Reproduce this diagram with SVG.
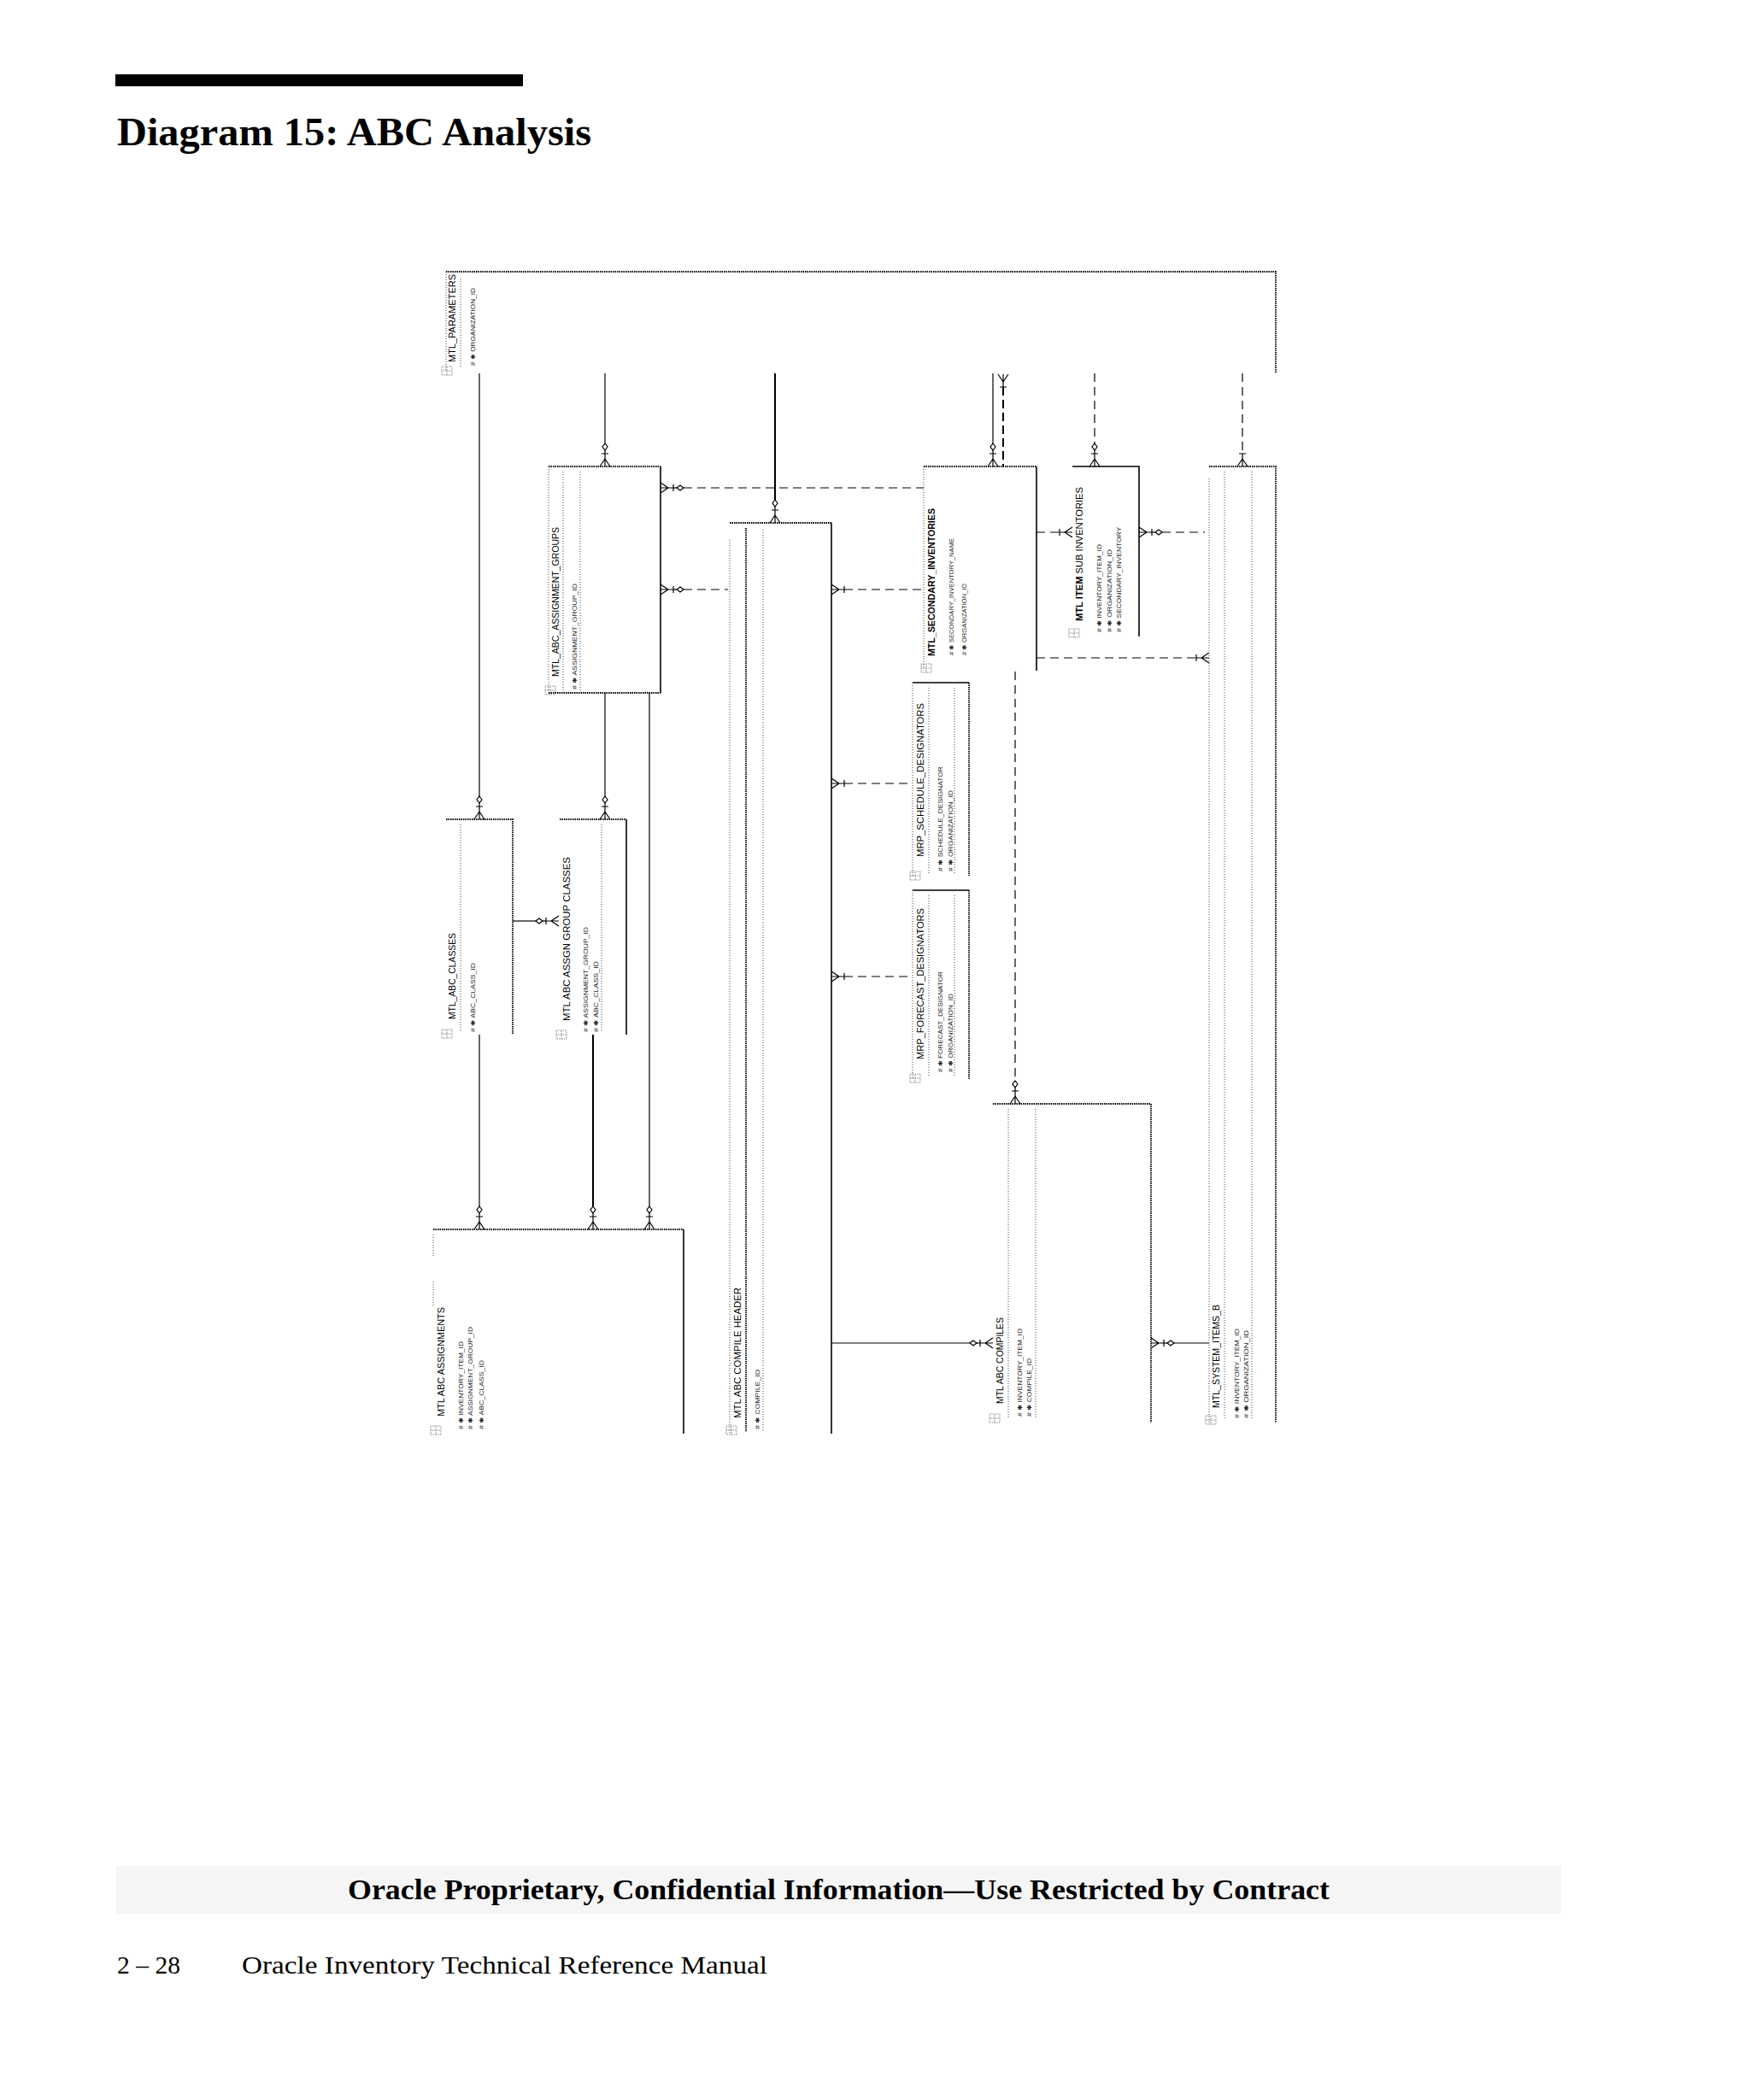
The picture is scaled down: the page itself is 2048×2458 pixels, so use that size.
<svg xmlns="http://www.w3.org/2000/svg" width="2048" height="2458" viewBox="0 0 2048 2458">
<style>
.pg{font-family:"Liberation Serif","DejaVu Serif",serif;fill:#000}
.t{font-family:"Liberation Sans",Arial,sans-serif;font-size:11px;fill:#000}
.a{font-family:"Liberation Sans",Arial,sans-serif;font-size:7px;fill:#222}
.b{stroke:#000;stroke-width:1.6;fill:none}
.bd{stroke:#000;stroke-width:1.8;stroke-dasharray:1.5 1;fill:none}
.in{stroke:#444;stroke-width:1;stroke-dasharray:1 2;fill:none}
.r{stroke:#000;stroke-width:1.2;fill:none}
.rt{stroke:#000;stroke-width:2;fill:none}
.rd{stroke:#000;stroke-width:1.2;stroke-dasharray:10 6;fill:none}
.rdt{stroke:#000;stroke-width:2;stroke-dasharray:10 5;fill:none}
.mk{stroke:#000;stroke-width:1.2;fill:#fff}
.ic{stroke:#555;stroke-width:0.8;fill:none;stroke-dasharray:1 1}
</style>
<defs>
<g id="crow"><path class="mk" d="M0,-9 L-6,0 M0,-9 L6,0 M0,-9 L0,0" fill="none"/></g>
<g id="mMan"><use href="#crow"/><path class="mk" d="M-4,-15 L4,-15 M0,-15 L0,-9"/></g>
<g id="mOpt"><use href="#mMan"/><path class="mk" d="M0,-19 L0,-15"/><path class="mk" d="M0,-27 L3,-23 L0,-19 L-3,-23 Z"/></g>
<g id="icon"><rect class="ic" x="-5" y="-12" width="10" height="12"/><path class="ic" d="M-5,-6 L5,-6 M0,-12 L0,0"/></g>
</defs>

<!-- page furniture -->
<rect x="135" y="87" width="477" height="14" fill="#000"/>
<text class="pg" x="137" y="170" font-size="46" font-weight="bold" textLength="555" lengthAdjust="spacingAndGlyphs">Diagram 15: ABC Analysis</text>
<rect x="136" y="2184" width="1691" height="56" fill="#f5f5f5"/>
<text class="pg" x="407" y="2223" font-size="34" font-weight="bold" textLength="1149" lengthAdjust="spacingAndGlyphs">Oracle Proprietary, Confidential Information––Use Restricted by Contract</text>
<text class="pg" x="137" y="2310" font-size="29" textLength="74" lengthAdjust="spacingAndGlyphs">2 – 28</text>
<text class="pg" x="283" y="2310" font-size="29" textLength="615" lengthAdjust="spacingAndGlyphs">Oracle Inventory Technical Reference Manual</text>

<!-- connectors -->
<g id="connectors">
<path class="r" d="M561,437 V932"/>
<path class="r" d="M708,437 V519"/>
<path class="rt" d="M907,437 V585"/>
<path class="r" d="M1162,437 V519"/>
<path class="rdt" d="M1174,453 V546"/>
<path class="rd" d="M1281,437 V519"/>
<path class="rd" d="M1454,437 V531"/>
<path class="rd" d="M800,571 H1081"/>
<path class="rd" d="M800,690 H852"/>
<path class="rd" d="M988,690 H1081"/>
<path class="rd" d="M988,917 H1068"/>
<path class="rd" d="M988,1143 H1068"/>
<path class="rd" d="M1213,623 H1240"/>
<path class="rd" d="M1360,623 H1410"/>
<path class="rd" d="M1213,770 H1400"/>
<path class="rd" d="M1188,786 V1265"/>
<path class="r" d="M600,1078 H627"/>
<path class="r" d="M708,811 V932"/>
<path class="r" d="M760,811 V1412"/>
<path class="r" d="M561,1211 V1412"/>
<path class="rt" d="M694,1211 V1412"/>
<path class="r" d="M973,1572 H1135"/>
<path class="r" d="M1374,1572 H1415"/>
<use href="#mOpt" transform="translate(561,959)"/>
<use href="#mOpt" transform="translate(708,546)"/>
<use href="#mOpt" transform="translate(907,612)"/>
<use href="#mOpt" transform="translate(1162,546)"/>
<use href="#mMan" transform="translate(1174,438) rotate(180)"/>
<use href="#mOpt" transform="translate(1281,546)"/>
<use href="#mMan" transform="translate(1454,546)"/>
<use href="#mOpt" transform="translate(773,571) rotate(90)"/>
<use href="#mOpt" transform="translate(773,690) rotate(90)"/>
<use href="#mMan" transform="translate(973,690) rotate(90)"/>
<use href="#mMan" transform="translate(973,917) rotate(90)"/>
<use href="#mMan" transform="translate(973,1143) rotate(90)"/>
<use href="#mMan" transform="translate(1255,623) rotate(-90)"/>
<use href="#mOpt" transform="translate(1333,623) rotate(90)"/>
<use href="#mMan" transform="translate(1415,770) rotate(-90)"/>
<use href="#mOpt" transform="translate(1188,1292)"/>
<use href="#mOpt" transform="translate(654,1078) rotate(-90)"/>
<use href="#mOpt" transform="translate(708,959)"/>
<use href="#mOpt" transform="translate(561,1439)"/>
<use href="#mOpt" transform="translate(694,1439)"/>
<use href="#mOpt" transform="translate(760,1439)"/>
<use href="#mOpt" transform="translate(1162,1572) rotate(-90)"/>
<use href="#mOpt" transform="translate(1347,1572) rotate(90)"/>
</g>

<!-- nodes -->
<g id="mtl_parameters">
<path class="bd" d="M522,318 H1493 V437"/>
<path class="in" d="M522,318 V433 M539,326 V430"/>
<use href="#icon" transform="translate(529,434) rotate(-90)"/>
<text class="t" transform="translate(533,424) rotate(-90)" textLength="103" lengthAdjust="spacingAndGlyphs">MTL_PARAMETERS</text>
<text class="a" transform="translate(555.5,428) rotate(-90)" textLength="91" lengthAdjust="spacingAndGlyphs"># ✱ ORGANIZATION_ID</text>
</g>

<g id="mtl_abc_assignment_groups">
<path class="bd" d="M642,546 H773"/>
<path class="b" d="M773,546 V811"/>
<path class="bd" d="M642,811 H773"/>
<path class="in" d="M642,546 V811 M659,552 V808 M679,552 V808"/>
<use href="#icon" transform="translate(650,808) rotate(-90)"/>
<text class="t" transform="translate(654,792) rotate(-90)" textLength="175" lengthAdjust="spacingAndGlyphs">MTL_ABC_ASSIGNMENT_GROUPS</text>
<text class="a" transform="translate(674.5,807) rotate(-90)" textLength="124" lengthAdjust="spacingAndGlyphs"># ✱ ASSIGNMENT_GROUP_ID</text>
</g>

<g id="mtl_abc_compile_header">
<path class="bd" d="M854,612 H973"/>
<path class="b" d="M973,612 V1678"/>
<path class="in" d="M854,632 V1678 M893,620 V1676"/>
<path class="bd" d="M873,618 V1676" stroke-width="1.2"/>
<use href="#icon" transform="translate(862,1674) rotate(-90)"/>
<text class="t" transform="translate(867,1660) rotate(-90)" textLength="153" lengthAdjust="spacingAndGlyphs">MTL ABC COMPILE HEADER</text>
<text class="a" transform="translate(888.5,1673) rotate(-90)" textLength="70" lengthAdjust="spacingAndGlyphs"># ✱ COMPILE_ID</text>
</g>

<g id="mtl_secondary_inventories">
<path class="bd" d="M1081,546 H1213"/>
<path class="b" d="M1213,546 V785"/>
<path class="in" d="M1081,546 V783"/>
<use href="#icon" transform="translate(1090,782) rotate(-90)"/>
<text class="t" transform="translate(1094,768) rotate(-90)" font-weight="bold" textLength="173" lengthAdjust="spacingAndGlyphs">MTL_SECONDARY_INVENTORIES</text>
<text class="a" transform="translate(1115.5,767) rotate(-90)" textLength="137" lengthAdjust="spacingAndGlyphs"># ✱ SECONDARY_INVENTORY_NAME</text>
<text class="a" transform="translate(1130.5,767) rotate(-90)" textLength="84" lengthAdjust="spacingAndGlyphs"># ✱ ORGANIZATION_ID</text>
</g>

<g id="mtl_item_sub_inventories">
<path class="b" d="M1255,546 H1333 V745"/>
<use href="#icon" transform="translate(1263,741) rotate(-90)"/>
<text class="t" transform="translate(1267,727) rotate(-90)" textLength="157" lengthAdjust="spacingAndGlyphs"><tspan font-weight="bold">MTL ITEM</tspan> SUB INVENTORIES</text>
<text class="a" transform="translate(1288.5,740) rotate(-90)" textLength="103" lengthAdjust="spacingAndGlyphs"># ✱ INVENTORY_ITEM_ID</text>
<text class="a" transform="translate(1300.5,740) rotate(-90)" textLength="97" lengthAdjust="spacingAndGlyphs"># ✱ ORGANIZATION_ID</text>
<text class="a" transform="translate(1311.5,740) rotate(-90)" textLength="123" lengthAdjust="spacingAndGlyphs"># ✱ SECONDARY_INVENTORY</text>
</g>

<g id="mtl_system_items_b">
<path class="bd" d="M1415,546 H1493 V1665"/>
<path class="in" d="M1415,560 V1665 M1433,552 V1662 M1465,552 V1662"/>
<use href="#icon" transform="translate(1423,1662) rotate(-90)"/>
<text class="t" transform="translate(1427,1648) rotate(-90)" textLength="121" lengthAdjust="spacingAndGlyphs">MTL_SYSTEM_ITEMS_B</text>
<text class="a" transform="translate(1449.5,1660) rotate(-90)" textLength="105" lengthAdjust="spacingAndGlyphs"># ✱ INVENTORY_ITEM_ID</text>
<text class="a" transform="translate(1460.5,1660) rotate(-90)" textLength="103" lengthAdjust="spacingAndGlyphs"># ✱ ORGANIZATION_ID</text>
</g>

<g id="mrp_schedule_designators">
<path class="b" d="M1068,799 H1134"/>
<path class="bd" d="M1134,799 V1025"/>
<path class="in" d="M1068,799 V1025 M1087,805 V1022 M1117,805 V1022"/>
<use href="#icon" transform="translate(1077,1025) rotate(-90)"/>
<text class="t" transform="translate(1081,1003) rotate(-90)" textLength="180" lengthAdjust="spacingAndGlyphs">MRP_SCHEDULE_DESIGNATORS</text>
<text class="a" transform="translate(1102.5,1020) rotate(-90)" textLength="123" lengthAdjust="spacingAndGlyphs"># ✱ SCHEDULE_DESIGNATOR</text>
<text class="a" transform="translate(1114.5,1020) rotate(-90)" textLength="95" lengthAdjust="spacingAndGlyphs"># ✱ ORGANIZATION_ID</text>
</g>

<g id="mrp_forecast_designators">
<path class="b" d="M1068,1042 H1134"/>
<path class="bd" d="M1134,1042 V1263"/>
<path class="in" d="M1068,1042 V1263 M1087,1048 V1260 M1117,1048 V1260"/>
<use href="#icon" transform="translate(1077,1262) rotate(-90)"/>
<text class="t" transform="translate(1081,1240) rotate(-90)" textLength="177" lengthAdjust="spacingAndGlyphs">MRP_FORECAST_DESIGNATORS</text>
<text class="a" transform="translate(1102.5,1255) rotate(-90)" textLength="118" lengthAdjust="spacingAndGlyphs"># ✱ FORECAST_DESIGNATOR</text>
<text class="a" transform="translate(1114.5,1255) rotate(-90)" textLength="92" lengthAdjust="spacingAndGlyphs"># ✱ ORGANIZATION_ID</text>
</g>

<g id="mtl_abc_compiles">
<path class="bd" d="M1162,1292 H1347 V1665"/>
<path class="in" d="M1180,1298 V1660 M1212,1298 V1660"/>
<use href="#icon" transform="translate(1170,1660) rotate(-90)"/>
<text class="t" transform="translate(1174,1643) rotate(-90)" textLength="101" lengthAdjust="spacingAndGlyphs">MTL ABC COMPILES</text>
<text class="a" transform="translate(1195.5,1658) rotate(-90)" textLength="103" lengthAdjust="spacingAndGlyphs"># ✱ INVENTORY_ITEM_ID</text>
<text class="a" transform="translate(1206.5,1658) rotate(-90)" textLength="68" lengthAdjust="spacingAndGlyphs"># ✱ COMPILE_ID</text>
</g>

<g id="mtl_abc_classes">
<path class="bd" d="M522,959 H600 V1211"/>
<path class="in" d="M539,965 V1208"/>
<use href="#icon" transform="translate(529,1210) rotate(-90)"/>
<text class="t" transform="translate(533,1193) rotate(-90)" textLength="101" lengthAdjust="spacingAndGlyphs">MTL_ABC_CLASSES</text>
<text class="a" transform="translate(555.5,1208) rotate(-90)" textLength="81" lengthAdjust="spacingAndGlyphs"># ✱ ABC_CLASS_ID</text>
</g>

<g id="mtl_abc_assgn_group_classes">
<path class="bd" d="M655,959 H733"/>
<path class="b" d="M733,959 V1211"/>
<path class="in" d="M704,965 V1208"/>
<use href="#icon" transform="translate(663,1211) rotate(-90)"/>
<text class="t" transform="translate(667,1195) rotate(-90)" textLength="192" lengthAdjust="spacingAndGlyphs">MTL ABC ASSGN GROUP CLASSES</text>
<text class="a" transform="translate(687.5,1208) rotate(-90)" textLength="123" lengthAdjust="spacingAndGlyphs"># ✱ ASSIGNMENT_GROUP_ID</text>
<text class="a" transform="translate(699.5,1208) rotate(-90)" textLength="83" lengthAdjust="spacingAndGlyphs"># ✱ ABC_CLASS_ID</text>
</g>

<g id="mtl_abc_assignments">
<path class="bd" d="M507,1439 H800"/>
<path class="b" d="M800,1439 V1678" stroke-width="2"/>
<path class="in" d="M507,1445 V1470 M507,1500 V1530"/>
<use href="#icon" transform="translate(516,1674) rotate(-90)"/>
<text class="t" transform="translate(520,1658) rotate(-90)" textLength="128" lengthAdjust="spacingAndGlyphs">MTL ABC ASSIGNMENTS</text>
<text class="a" transform="translate(541.5,1673) rotate(-90)" textLength="103" lengthAdjust="spacingAndGlyphs"># ✱ INVENTORY_ITEM_ID</text>
<text class="a" transform="translate(552.5,1673) rotate(-90)" textLength="120" lengthAdjust="spacingAndGlyphs"># ✱ ASSIGNMENT_GROUP_ID</text>
<text class="a" transform="translate(565.5,1673) rotate(-90)" textLength="81" lengthAdjust="spacingAndGlyphs"># ✱ ABC_CLASS_ID</text>
</g>
</svg>
